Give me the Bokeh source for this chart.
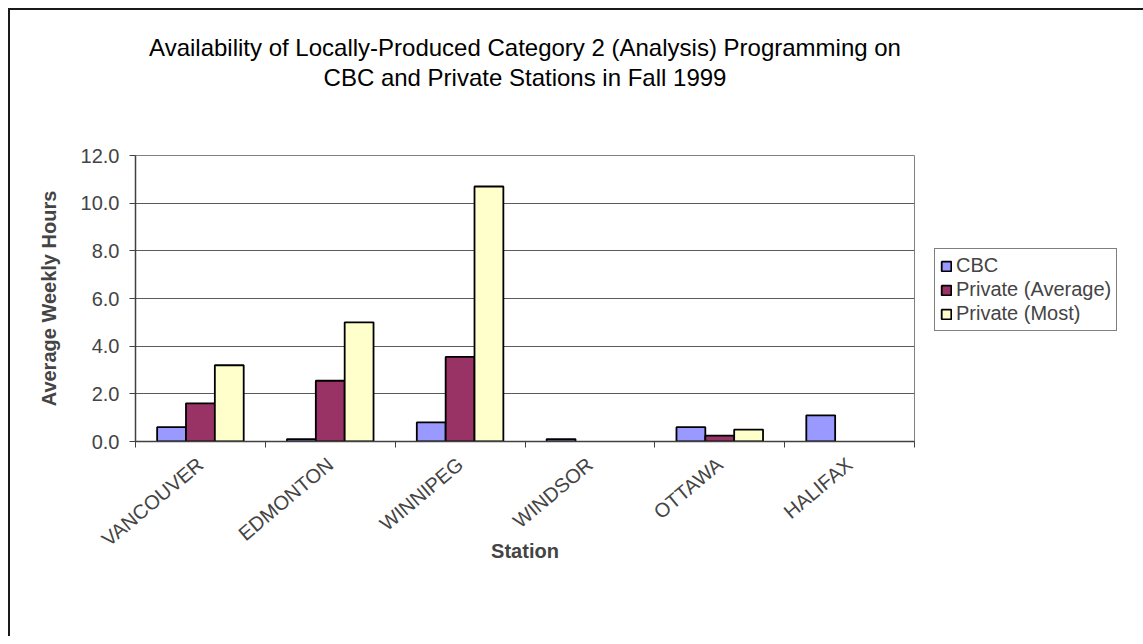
import math
from bokeh.plotting import figure
from bokeh.models import (ColumnDataSource, FixedTicker, Legend, LegendItem, Title,
                          PrintfTickFormatter, Range1d, LinearAxis)
from bokeh.transform import dodge
from bokeh.embed import file_html
from bokeh.resources import INLINE

# ---------------- data ----------------
stations = ["VANCOUVER", "EDMONTON", "WINNIPEG", "WINDSOR", "OTTAWA", "HALIFAX"]
cbc = [0.6, 0.1, 0.8, 0.1, 0.6, 1.1]
private_avg = [1.6, 2.55, 3.55, None, 0.25, None]
private_most = [3.2, 5.0, 10.7, None, 0.5, None]
series_names = ["CBC", "Private (Average)", "Private (Most)"]
y_ticks = [0, 2, 4, 6, 8, 10, 12]
title_lines = ["Availability of Locally-Produced Category 2 (Analysis) Programming on",
               "CBC and Private Stations in Fall 1999"]

FONT = "Liberation Sans"
colors = ["#9999FF", "#993366", "#FFFFCC"]


def clean(vals):
    return [float("nan") if v is None else v for v in vals]


xs = [i + 0.5 for i in range(len(stations))]
src = ColumnDataSource(dict(x=xs, cbc=clean(cbc), avg=clean(private_avg),
                            most=clean(private_most)))

p = figure(frame_width=779, frame_height=286, output_backend="svg", toolbar_location=None,
           x_range=Range1d(0, len(stations)), y_range=Range1d(0, 12),
           min_border_left=125, min_border_right=221, min_border_top=145,
           min_border_bottom=195)
p.styles = {"margin-left": "8px", "margin-top": "8px",
            "border-top": "2px solid #1a1a1a", "border-left": "2px solid #1a1a1a"}

bw = 1 / 4.5
renderers = []
for col, off, c in zip(["cbc", "avg", "most"], [-bw, 0, bw], colors):
    r = p.vbar(x=dodge("x", off, range=p.x_range), top=col, width=bw, bottom=0,
               source=src, fill_color=c, line_color="black", line_width=1.8)
    renderers.append(r)

# axes
p.xaxis.ticker = FixedTicker(ticks=xs, minor_ticks=list(range(len(stations) + 1)))
p.xaxis.major_label_overrides = {x: s for x, s in zip(xs, stations)}
p.xaxis.major_tick_out = 0
p.xaxis.major_tick_in = 0
p.xaxis.minor_tick_out = 6
p.xaxis.minor_tick_in = 0
p.xaxis.minor_tick_line_color = "#404040"
p.xaxis.major_label_orientation = math.radians(40)
p.xaxis.major_label_text_font = FONT
p.xaxis.major_label_text_font_size = "20px"
p.xaxis.major_label_standoff = 14
p.xaxis.axis_line_color = "#404040"
p.xaxis.axis_line_width = 1.5
p.xaxis.axis_label = "Station"
p.xaxis.axis_label_text_font = FONT
p.xaxis.axis_label_text_font_style = "bold"
p.xaxis.axis_label_text_font_size = "20px"
p.xaxis.axis_label_standoff = -22

p.yaxis.ticker = FixedTicker(ticks=y_ticks)
p.yaxis.formatter = PrintfTickFormatter(format="%.1f")
p.yaxis.major_tick_out = 6
p.yaxis.major_tick_in = 0
p.yaxis.minor_tick_out = 0
p.yaxis.minor_tick_in = 0
p.yaxis.major_tick_line_color = "#404040"
p.yaxis.axis_line_color = "#404040"
p.yaxis.axis_line_width = 1.5
p.yaxis.major_label_text_font = FONT
p.yaxis.major_label_text_font_size = "20px"
p.yaxis.major_label_standoff = 10
p.yaxis.axis_label = "Average Weekly Hours"
p.yaxis.axis_label_text_font = FONT
p.yaxis.axis_label_text_font_style = "bold"
p.yaxis.axis_label_text_font_size = "20px"
p.yaxis.axis_label_standoff = 18

p.xgrid.visible = False
p.ygrid.ticker = FixedTicker(ticks=y_ticks)
p.ygrid.grid_line_color = "#5a5a5a"
p.ygrid.grid_line_width = 1

p.outline_line_color = "#808080"
p.outline_line_width = 1
p.background_fill_color = "white"
p.border_fill_color = "white"

# second title line: label of a tick-less axis above the plot (nearest)
top_axis = LinearAxis(ticker=FixedTicker(ticks=[]), axis_line_color=None,
                      axis_label=title_lines[1], axis_label_text_font=FONT,
                      axis_label_text_font_size="24px", axis_label_text_font_style="normal",
                      axis_label_text_color="black", axis_label_standoff=65,
                      major_tick_out=0, major_tick_in=0, minor_tick_out=0, minor_tick_in=0)
p.add_layout(top_axis, "above")
# first title line
p.add_layout(Title(text=title_lines[0], align="center",
                   text_font=FONT, text_font_size="24px", text_font_style="normal",
                   text_color="black", standoff=0), "above")

legend = Legend(items=[LegendItem(label=n, renderers=[r]) for n, r in zip(series_names, renderers)],
                location=(20, 110), orientation="vertical",
                label_text_font=FONT, label_text_font_size="20px",
                label_height=20, glyph_height=12, glyph_width=12,
                label_standoff=4, spacing=1, padding=5, margin=0,
                border_line_color="black", border_line_width=1,
                background_fill_color="white", background_fill_alpha=1)
p.add_layout(legend, "right")

open("out.html", "w").write(file_html(p, INLINE))
